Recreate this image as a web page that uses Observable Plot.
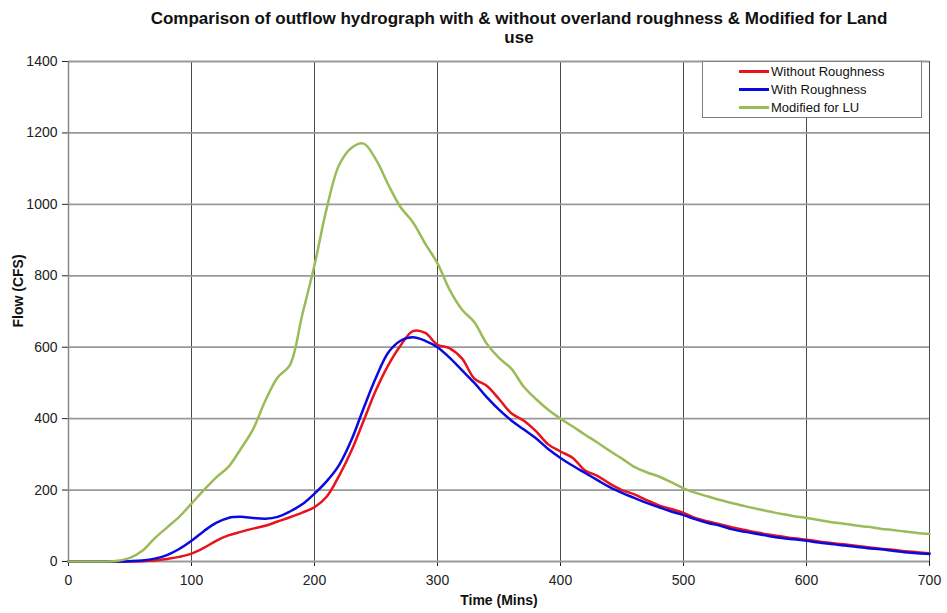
<!DOCTYPE html>
<html><head><meta charset="utf-8">
<script src="https://cdn.jsdelivr.net/npm/d3@7"></script>
<script src="https://cdn.jsdelivr.net/npm/@observablehq/plot@0.6"></script>
<style>
body{margin:0;background:#fff;font-family:"Liberation Sans",Arial,sans-serif;}
#wrap{position:relative;width:947px;height:613px;}
#title{position:absolute;left:69px;width:900px;top:9px;text-align:center;font-weight:bold;font-size:17px;line-height:19px;color:#111;}
#legend{position:absolute;left:702px;top:61px;width:220px;height:57px;border:1px solid #808080;background:#fff;box-sizing:border-box;font-size:13px;color:#111;}
.row{position:absolute;left:36px;height:18px;line-height:18px;white-space:nowrap;}
.row span{display:inline-block;width:30px;height:3px;vertical-align:middle;margin-right:2px;position:relative;top:-1px;}
</style></head>
<body>
<div id="wrap">
<div id="title">Comparison of outflow hydrograph with &amp; without overland roughness &amp; Modified for Land<br>use</div>
<div id="chart"></div>
<div id="legend"></div>
</div>
<script>
const times = d3.range(0, 701, 10);
const seriesNames = ["Without Roughness", "With Roughness", "Modified for LU"];
const seriesColors = ["#e8131b", "#0a0ae0", "#9bbb59"];
const withoutRoughness = [0,0,0,0,0,0,1,3,7,13,22,38,58,73,83,92,100,112,124,137,152,182,240,310,395,480,550,605,645,640,607,597,568,512,492,455,415,395,365,328,308,290,255,240,218,200,188,172,157,147,136,121,112,104,95,88,81,75,70,65,61,56,52,48,44,40,36,33,29,26,23];
const withRoughness = [0,0,0,0,0,1,3,8,18,35,58,85,108,122,125,122,120,125,140,160,190,225,270,340,430,515,585,618,628,618,600,570,535,500,460,425,395,370,345,315,290,268,248,228,208,192,178,164,152,140,130,118,108,100,90,83,77,71,66,62,58,53,49,45,41,37,34,30,26,23,21];
const modifiedLU = [0,0,0,0,2,10,30,65,95,125,162,200,235,265,315,370,450,515,550,690,830,990,1110,1158,1170,1125,1055,992,950,890,835,760,705,670,610,570,540,490,455,425,400,378,355,333,310,288,265,250,238,222,205,192,182,172,163,155,147,140,133,127,122,116,110,106,101,97,92,88,84,80,77];
const xTicks = [0,100,200,300,400,500,600,700];
const yTicks = [0,200,400,600,800,1000,1200,1400];

const seriesValues = [withoutRoughness, withRoughness, modifiedLU];
const data = [];
seriesNames.forEach((name, i) => times.forEach((t, j) => data.push({t, q: seriesValues[i][j], s: name})));

const chart = Plot.plot({
  width: 947, height: 613,
  marginLeft: 68, marginRight: 18, marginTop: 61, marginBottom: 52,
  style: {fontFamily: "Liberation Sans, Arial, sans-serif", fontSize: "14px", color: "#222", background: "transparent", overflow: "visible"},
  x: {domain: [0, 700], ticks: xTicks, tickSize: 5, tickPadding: 9, tickFormat: d => String(d), label: null},
  y: {domain: [0, 1400], ticks: yTicks, tickSize: 6, tickPadding: 5, tickFormat: d => String(d), label: null},
  color: {domain: seriesNames, range: seriesColors},
  marks: [
    Plot.ruleX(xTicks.slice(1), {stroke: "#4a4a4a", strokeWidth: 1}),
    Plot.ruleY(yTicks.slice(1), {stroke: "#999", strokeWidth: 1.8}),
    Plot.ruleX([0], {stroke: "#888", strokeWidth: 1.5}),
    Plot.ruleY([0], {stroke: "#999", strokeWidth: 2.2}),
    Plot.line(data, {x: "t", y: "q", stroke: "s", z: "s", curve: "catmull-rom", strokeWidth: 2.5}),
    Plot.text(["Flow (CFS)"], {frameAnchor: "left", dx: -50, dy: 16, rotate: -90, fontWeight: "bold", fontSize: 14, fill: "#111"}),
    Plot.text(["Time (Mins)"], {frameAnchor: "bottom", dy: 43, fontWeight: "bold", fontSize: 14, fill: "#111"})
  ]
});
document.getElementById("chart").appendChild(chart);

const legend = document.getElementById("legend");
seriesNames.forEach((name, i) => {
  const row = document.createElement("div");
  row.className = "row";
  row.style.top = (1 + i * 18) + "px";
  const sw = document.createElement("span");
  sw.style.background = seriesColors[i];
  row.appendChild(sw);
  row.appendChild(document.createTextNode(name));
  legend.appendChild(row);
});
</script>
</body></html>
